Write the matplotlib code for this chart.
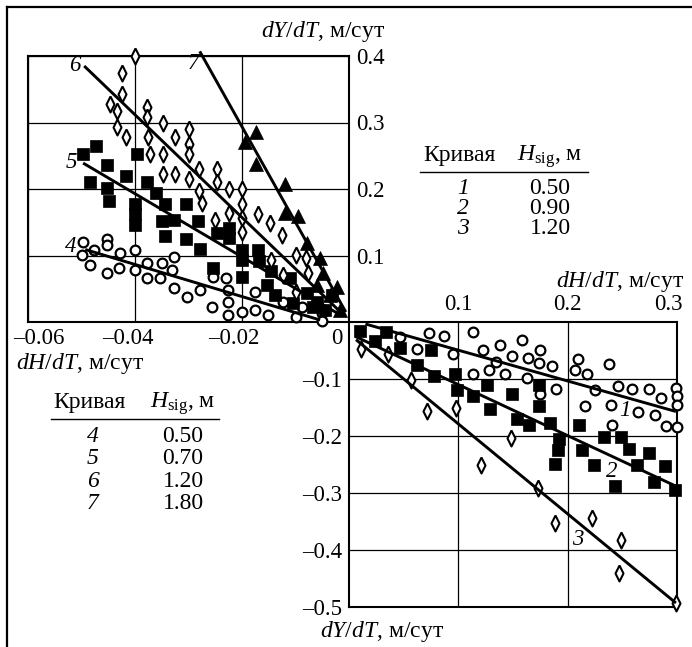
import matplotlib
matplotlib.use("Agg")
import matplotlib.pyplot as plt
import matplotlib.transforms as mtransforms
from matplotlib.lines import Line2D

plt.rcParams['font.family'] = ['Liberation Serif', 'DejaVu Serif']
plt.rcParams['mathtext.fontset'] = 'custom'
plt.rcParams['mathtext.it'] = 'Liberation Serif:italic'
plt.rcParams['mathtext.rm'] = 'Liberation Serif'
plt.rcParams['mathtext.bf'] = 'Liberation Serif:bold'

# ---------------- data: upper-left panel (curves 4-7) ----------------
c4_x = [-0.0498, -0.0500, -0.0477, -0.0484, -0.0452, -0.0452, -0.0452, -0.0428, -0.0429, -0.0400,
        -0.0400, -0.0378, -0.0378, -0.0350, -0.0353, -0.0328, -0.0330, -0.0328, -0.0303, -0.0278,
        -0.0254, -0.0257, -0.0229, -0.0226, -0.0226, -0.0227, -0.0200, -0.0176, -0.0176, -0.0151,
        -0.0123, -0.0100, -0.0088, -0.0051, -0.0051]
c4_y = [0.120, 0.101, 0.109, 0.086, 0.073, 0.125, 0.116, 0.104, 0.081, 0.109,
        0.078, 0.088, 0.066, 0.088, 0.066, 0.098, 0.078, 0.051, 0.038, 0.048,
        0.068, 0.023, 0.066, 0.048, 0.030, 0.011, 0.015, 0.045, 0.018, 0.010,
        0.030, 0.0076, 0.023, 0.013, 0.001]

c5_x = [-0.0497, -0.0473, -0.0484, -0.0452, -0.0453, -0.0448, -0.0416, -0.0397, -0.0400, -0.0400,
        -0.0400, -0.0378, -0.0360, -0.0344, -0.0350, -0.0328, -0.0344, -0.0305, -0.0305, -0.0282,
        -0.0278, -0.0254, -0.0246, -0.0224, -0.0224, -0.0200, -0.0200, -0.0200, -0.0170, -0.0168,
        -0.0145, -0.0154, -0.0138, -0.0110, -0.0104, -0.0079, -0.0067, -0.0032, -0.0060, -0.0045]
c5_y = [0.252, 0.265, 0.210, 0.236, 0.202, 0.182, 0.220, 0.253, 0.177, 0.162,
        0.146, 0.210, 0.194, 0.178, 0.152, 0.154, 0.129, 0.177, 0.125, 0.152,
        0.110, 0.081, 0.134, 0.141, 0.126, 0.109, 0.093, 0.068, 0.109, 0.091,
        0.076, 0.056, 0.040, 0.066, 0.028, 0.043, 0.023, 0.040, 0.030, 0.018]

c6_x = [-0.0400, -0.0425, -0.0425, -0.0447, -0.0434, -0.0434, -0.0416, -0.0378, -0.0378, -0.0375,
        -0.0372, -0.0347, -0.0347, -0.0347, -0.0325, -0.0325, -0.0300, -0.0300, -0.0300, -0.0300,
        -0.0280, -0.0280, -0.0275, -0.0247, -0.0247, -0.0250, -0.0224, -0.0224, -0.0200, -0.0200,
        -0.0200, -0.0200, -0.0170, -0.0148, -0.0145, -0.0126, -0.0123, -0.0100, -0.0080, -0.0076,
        -0.0100]
c6_y = [0.400, 0.374, 0.343, 0.328, 0.318, 0.293, 0.278, 0.323, 0.308, 0.278,
        0.253, 0.300, 0.253, 0.222, 0.278, 0.222, 0.290, 0.268, 0.253, 0.215,
        0.230, 0.197, 0.179, 0.230, 0.210, 0.154, 0.200, 0.164, 0.200, 0.177,
        0.157, 0.136, 0.162, 0.149, 0.093, 0.131, 0.071, 0.101, 0.096, 0.073,
        0.045]

c7_x = [-0.0194, -0.0173, -0.0173, -0.0120, -0.0120, -0.0095, -0.0079, -0.0054, -0.0060, -0.0048,
        -0.0023, -0.0036, -0.0017]
c7_y = [0.270, 0.285, 0.237, 0.208, 0.164, 0.159, 0.119, 0.096, 0.056, 0.073,
        0.053, 0.040, 0.018]

# fitted lines (end points)
line4_x = [-0.0493, -0.0054]; line4_y = [0.109, 0.003]
line5_x = [-0.0497, -0.0015]; line5_y = [0.239, 0.010]
line6_x = [-0.0495, -0.0012]; line6_y = [0.385, 0.012]
line7_x = [-0.0279, -0.0006]; line7_y = [0.407, 0.015]

# ---------------- data: lower-right panel (curves 1-3) ----------------
c1_x = [0.0465, 0.0623, 0.0730, 0.0866, 0.0950, 0.1130, 0.1230, 0.1380, 0.1340, 0.1490,
        0.1580, 0.1640, 0.1750, 0.1740, 0.1860, 0.1130, 0.1280, 0.1430, 0.1630, 0.1750,
        0.1890, 0.2090, 0.2070, 0.2180, 0.2160, 0.2250, 0.2380, 0.2400, 0.2410, 0.2460,
        0.2590, 0.2640, 0.2740, 0.2800, 0.2850, 0.2900, 0.2990, 0.3000, 0.3000, 0.3000]
c1_y = [-0.026, -0.047, -0.020, -0.025, -0.057, -0.018, -0.049, -0.040, -0.070, -0.060,
        -0.031, -0.063, -0.049, -0.072, -0.078, -0.091, -0.085, -0.091, -0.098, -0.126,
        -0.118, -0.065, -0.085, -0.092, -0.148, -0.119, -0.073, -0.146, -0.180, -0.113,
        -0.118, -0.158, -0.118, -0.164, -0.133, -0.183, -0.115, -0.129, -0.146, -0.184]

c2_x = [0.010, 0.024, 0.034, 0.0465, 0.0626, 0.0754, 0.078, 0.0967, 0.099, 0.113,
        0.126, 0.129, 0.149, 0.154, 0.165, 0.174, 0.174, 0.184, 0.192, 0.191,
        0.188, 0.210, 0.213, 0.224, 0.233, 0.243, 0.249, 0.256, 0.263, 0.274,
        0.279, 0.289, 0.298]
c2_y = [-0.015, -0.034, -0.018, -0.046, -0.075, -0.049, -0.094, -0.092, -0.120, -0.129,
        -0.110, -0.153, -0.126, -0.171, -0.180, -0.110, -0.148, -0.177, -0.205, -0.224,
        -0.249, -0.181, -0.225, -0.251, -0.202, -0.288, -0.201, -0.222, -0.251, -0.230,
        -0.281, -0.252, -0.294]

c3_x = [0.0106, 0.036, 0.057, 0.0714, 0.098, 0.148, 0.121, 0.173, 0.188, 0.222, 0.249, 0.247, 0.299]
c3_y = [-0.047, -0.056, -0.102, -0.156, -0.151, -0.204, -0.250, -0.291, -0.353, -0.344,
        -0.382, -0.440, -0.493]

line1_x = [0.015, 0.299]; line1_y = [-0.0035, -0.157]
line2_x = [0.0064, 0.299]; line2_y = [-0.026, -0.288]
line3_x = [0.0064, 0.299]; line3_y = [-0.031, -0.493]

# tick labels
ul_xticks = [-0.06, -0.04, -0.02, 0.0]
ul_xticklabels = ['–0.06', '–0.04', '–0.02', '0']
ul_yticks = [0.1, 0.2, 0.3, 0.4]
ul_yticklabels = ['0.1', '0.2', '0.3', '0.4']
lr_xticks = [0.1, 0.2, 0.3]
lr_xticklabels = ['0.1', '0.2', '0.3']
lr_yticks = [-0.1, -0.2, -0.3, -0.4, -0.5]
lr_yticklabels = ['–0.1', '–0.2', '–0.3', '–0.4', '–0.5']

# tables
tab1_curves = ['1', '2', '3']
tab1_h = ['0.50', '0.90', '1.20']
tab2_curves = ['4', '5', '6', '7']
tab2_h = ['0.50', '0.70', '1.20', '1.80']

# ---------------- figure ----------------
W, H = 692, 647
fig = plt.figure(figsize=(W / 100, H / 100), dpi=100)

def fx(px):
    return px / W

def fy(py):
    return 1 - py / H

ax1 = fig.add_axes([fx(28), fy(322), fx(349) - fx(28), fy(56) - fy(322)])
ax2 = fig.add_axes([fx(349), fy(607), fx(677) - fx(349), fy(322) - fy(607)])

diamond = [(0, 1), (0.5, 0), (0, -1), (-0.5, 0), (0, 1)]
FS = 16.5
TITLE_FS = 17
grid_lw = 0.9
spine_lw = 1.5
line_lw = 2.1

mk_circle = dict(marker='o', ms=7.0, mfc='white', mec='black', mew=1.6, ls='none', clip_on=False, zorder=3)
mk_square = dict(marker='s', ms=8.4, mfc='black', mec='black', mew=0.5, ls='none', clip_on=False, zorder=3)
mk_diam = dict(marker=diamond, ms=11.5, mfc='white', mec='black', mew=1.5, ls='none', clip_on=False, zorder=3)
mk_tri = dict(marker='^', ms=10, mfc='black', mec='black', mew=0.5, ls='none', clip_on=False, zorder=3)
ln = dict(color='black', lw=line_lw, clip_on=False, zorder=4, solid_capstyle='butt')

# upper-left
ax1.plot(c4_x, c4_y, **mk_circle)
ax1.plot(c5_x, c5_y, **mk_square)
ax1.plot(c6_x, c6_y, **mk_diam)
ax1.plot(c7_x, c7_y, **mk_tri)
ax1.plot(line4_x, line4_y, **ln)
ax1.plot(line5_x, line5_y, **ln)
ax1.plot(line6_x, line6_y, **ln)
ax1.plot(line7_x, line7_y, **ln)
ax1.set_xlim(-0.06, 0)
ax1.set_ylim(0, 0.4)
ax1.yaxis.tick_right()
ax1.set_xticks(ul_xticks, ul_xticklabels)
ax1.set_yticks(ul_yticks, ul_yticklabels)
ax1.tick_params(axis='both', length=0, labelsize=FS)
ax1.tick_params(axis='x', pad=4)
ax1.tick_params(axis='y', pad=5)
ax1.grid(True, color='black', lw=grid_lw)
for s in ax1.spines.values():
    s.set_linewidth(spine_lw)

# lower-right
ax2.plot(c1_x, c1_y, **mk_circle)
ax2.plot(c2_x, c2_y, **mk_square)
ax2.plot(c3_x, c3_y, **mk_diam)
ax2.plot(line1_x, line1_y, **ln)
ax2.plot(line2_x, line2_y, **ln)
ax2.plot(line3_x, line3_y, **ln)
ax2.set_xlim(0, 0.3)
ax2.set_ylim(-0.5, 0)
ax2.xaxis.tick_top()
ax2.set_xticks(lr_xticks, lr_xticklabels)
ax2.set_yticks(lr_yticks, lr_yticklabels)
ax2.tick_params(axis='both', length=0, labelsize=FS)
ax2.tick_params(axis='x', pad=5)
ax2.tick_params(axis='y', pad=5)
ax2.grid(True, color='black', lw=grid_lw)
for s in ax2.spines.values():
    s.set_linewidth(spine_lw)

# shift some tick labels like in the reference
def shift(label, dx_px):
    label.set_transform(label.get_transform() +
                        mtransforms.ScaledTranslation(dx_px / 100, 0, fig.dpi_scale_trans))

ul_shifts = [11, -7, -8, -12]
for lab, d in zip(ax1.get_xticklabels(), ul_shifts):
    shift(lab, d)
lr_shifts = [0, 0, -9]
for lab, d in zip(ax2.get_xticklabels(), lr_shifts):
    shift(lab, d)

# curve numbers
cl = dict(fontsize=FS, style='italic', ha='center', va='center', zorder=5)
ax1.text(-0.0512, 0.385, '6', **cl)
ax1.text(-0.0290, 0.388, '7', **cl)
ax1.text(-0.0518, 0.240, '5', **cl)
ax1.text(-0.0521, 0.114, '4', **cl)
ax2.text(0.2524, -0.156, '1', **cl)
ax2.text(0.2405, -0.262, '2', **cl)
ax2.text(0.2094, -0.382, '3', **cl)

# axis titles
fig.text(fx(323), fy(31), r'$dY/dT$, м/сут', fontsize=TITLE_FS, ha='center', va='center')
fig.text(fx(16), fy(363), r'$dH/dT$, м/сут', fontsize=TITLE_FS, ha='left', va='center')
fig.text(fx(684), fy(281), r'$dH/dT$, м/сут', fontsize=TITLE_FS, ha='right', va='center')
fig.text(fx(382), fy(632), r'$dY/dT$, м/сут', fontsize=TITLE_FS, ha='center', va='center')

# tables
TFS = 17
def table(x_c1, x_c2, y_head, y_line, x_l0, x_l1, y_rows, curves, hs):
    fig.text(fx(x_c1), fy(y_head), 'Кривая', fontsize=TFS, ha='center', va='baseline')
    fig.text(fx(x_c2), fy(y_head), r'$H_{\mathrm{sig}}$, м', fontsize=TFS, ha='center', va='baseline')
    fig.add_artist(Line2D([fx(x_l0), fx(x_l1)], [fy(y_line), fy(y_line)], color='black', lw=1.0))
    for yr, c, h in zip(y_rows, curves, hs):
        fig.text(fx(x_c1 + 3), fy(yr), c, fontsize=TFS, style='italic', ha='center', va='baseline')
        fig.text(fx(x_c2), fy(yr), h, fontsize=TFS, ha='center', va='baseline')

table(460, 550, 161, 172, 420, 588, [194, 214, 234], tab1_curves, tab1_h)
table(90, 183, 408, 419, 51, 219, [442, 464, 487, 509], tab2_curves, tab2_h)

# outer frame (top and left)
fig.add_artist(Line2D([fx(7), 1], [fy(7), fy(7)], color='black', lw=1.6))
fig.add_artist(Line2D([fx(7), fx(7)], [0, fy(7)], color='black', lw=1.6))

fig.savefig('out.png', dpi=100)
